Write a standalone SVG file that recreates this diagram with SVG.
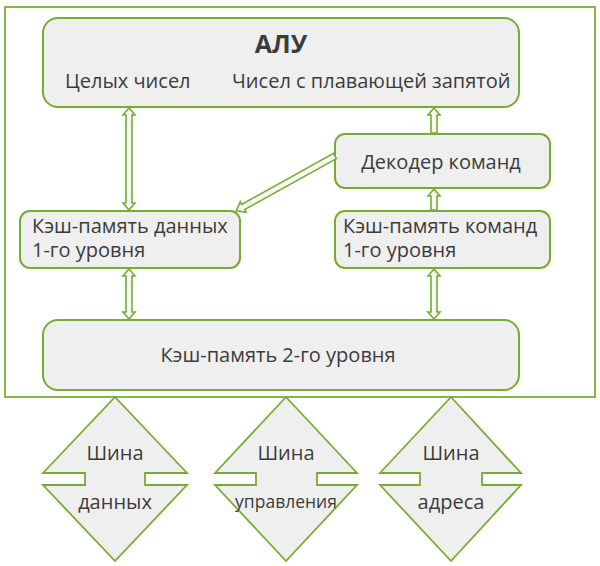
<svg xmlns="http://www.w3.org/2000/svg" width="600" height="566" viewBox="0 0 600 566">
<style>
.box{fill:#efefef;stroke:#78ab34;stroke-width:2}
.frame{fill:#ffffff;stroke:#86b846;stroke-width:2}
.arr{fill:#f6f6f6;stroke:#78ab34;stroke-width:1.6;stroke-linejoin:miter}
.t{font-family:"Open Sans","Noto Sans",sans-serif;font-size:20px;fill:#3c3c3c}
.b{font-family:"Open Sans","Noto Sans",sans-serif;font-size:25px;font-weight:bold;fill:#3c3c3c}
.m{text-anchor:middle}
</style>
<rect class="frame" x="5" y="7" width="590" height="390"/>
<g id="alu">
<rect class="box" x="43" y="18" width="476" height="89" rx="15"/>
<text class="b m" x="281" y="53">АЛУ</text>
<text class="t" x="65" y="88">Целых чисел</text>
<text class="t" x="232" y="88">Чисел с плавающей запятой</text>
</g>
<g id="decoder">
<rect class="box" x="335" y="134" width="215" height="54" rx="10"/>
<text class="t m" x="441" y="169">Декодер команд</text>
</g>
<g id="l1data">
<rect class="box" x="20" y="211" width="220" height="57" rx="10"/>
<text class="t" x="32" y="233">Кэш-память данных</text>
<text class="t" x="32" y="257">1-го уровня</text>
</g>
<g id="l1cmd">
<rect class="box" x="335" y="211" width="215" height="57" rx="10"/>
<text class="t" x="343" y="233">Кэш-память команд</text>
<text class="t" x="343" y="257">1-го уровня</text>
</g>
<g id="l2">
<rect class="box" x="43" y="320" width="476" height="70" rx="15"/>
<text class="t m" x="278" y="362">Кэш-память 2-го уровня</text>
</g>
<g id="bus-data">
<polygon class="box" style="stroke-width:1.8" points="115,397 187,473 145,473 145,485 187,485 115,561 43,485 85,485 85,473 43,473"/>
<text class="t m" x="115" y="460">Шина</text>
<text class="t m" x="115" y="509">данных</text>
</g>
<g id="bus-ctrl">
<polygon class="box" style="stroke-width:1.8" points="286,397 357,473 317,473 317,485 357,485 286,561 215,485 256,485 256,473 215,473"/>
<text class="t m" x="286" y="460">Шина</text>
<text class="t m" x="286" y="508" style="font-size:17.5px">управления</text>
</g>
<g id="bus-addr">
<polygon class="box" style="stroke-width:1.8" points="451,397 521,473 482,473 482,485 521,485 451,561 380,485 420,485 420,473 380,473"/>
<text class="t m" x="451" y="460">Шина</text>
<text class="t m" x="451" y="509">адреса</text>
</g>
<g id="connectors">
<polygon class="arr" points="129,108 135,115 132,115 132,203 135,203 129,210 123,203 126,203 126,115 123,115"/>
<polygon class="arr" points="129,269 135,276 132,276 132,312 135,312 129,319 123,312 126,312 126,276 123,276"/>
<polygon class="arr" points="434,269 440,276 437,276 437,312 440,312 434,319 428,312 431,312 431,276 428,276"/>
<polygon class="arr" points="434,108 440,115 437,115 437,133 431,133 431,115 428,115"/>
<polygon class="arr" points="434,189 440,196 437,196 437,210 431,210 431,196 428,196"/>
<polygon class="arr" transform="translate(335,156) rotate(150.95)" points="0,-3 105,-3 105,-6 113,0 105,6 105,3 0,3"/>
</g>
</svg>
